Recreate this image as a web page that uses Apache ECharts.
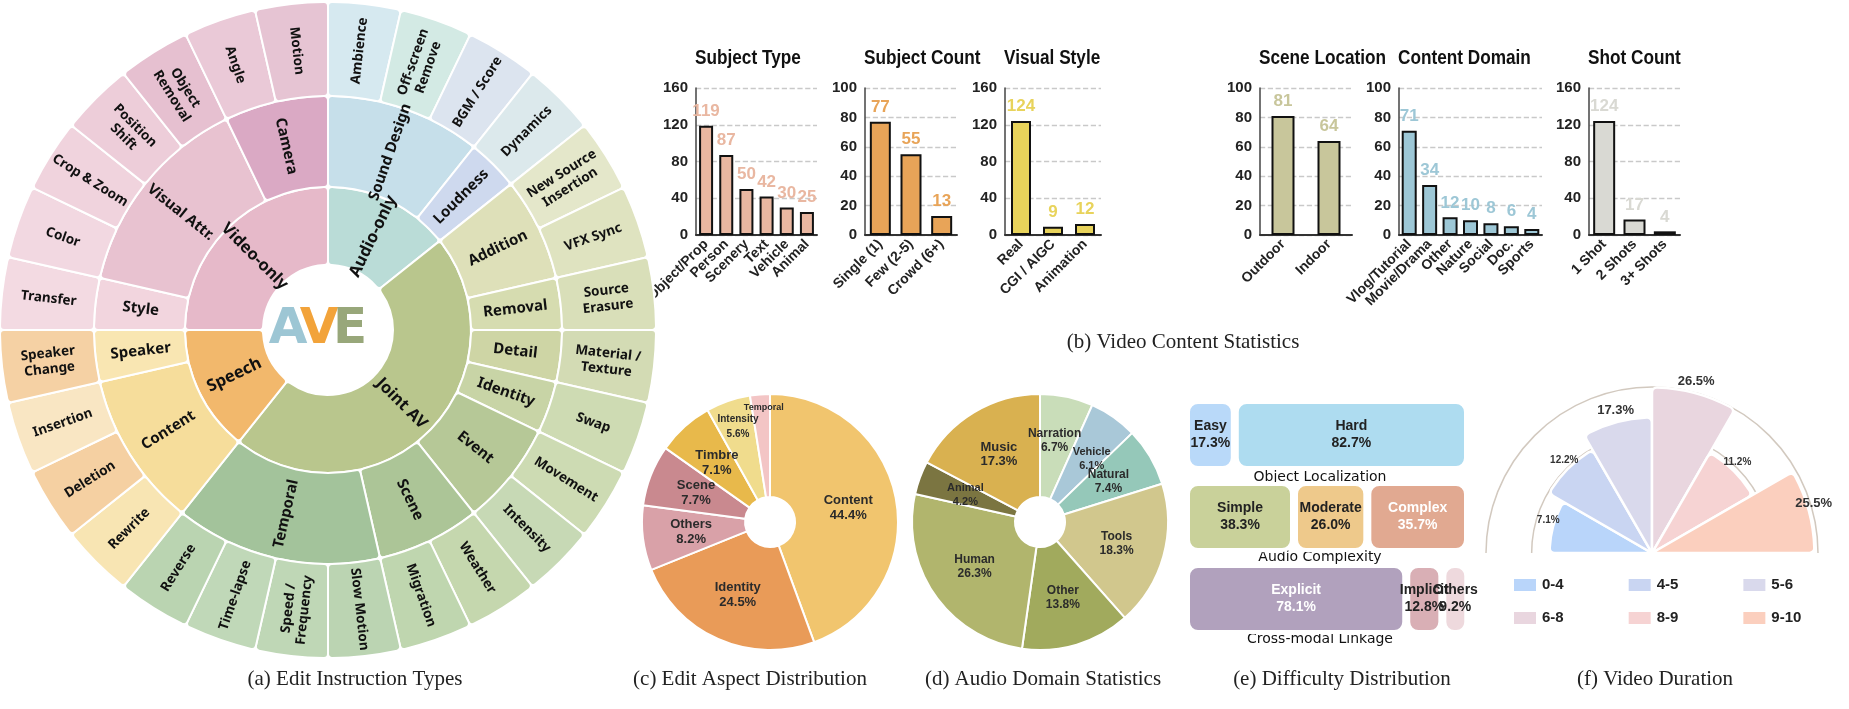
<!DOCTYPE html>
<html>
<head>
<meta charset="utf-8">
<title>AVE dataset statistics</title>
<script src="https://cdn.jsdelivr.net/npm/echarts@6/dist/echarts.min.js"></script>
<style>
html, body { margin: 0; padding: 0; background: #fff; }
#main { width: 1849px; height: 709px; }
</style>
</head>
<body>
<div id="main"></div>
<script>
// ---------- (a) edit instruction types ----------
var sbGroups = ['Audio-only', 'Joint AV', 'Speech', 'Video-only'];
var sbSubs = [
    ['Sound Design', 'Loudness'],
    ['Addition', 'Removal', 'Detail', 'Identity', 'Event', 'Scene', 'Temporal'],
    ['Content', 'Speaker'],
    ['Style', 'Visual Attr.', 'Camera']
];
var sbLeaves = [
    [['Ambience', 'Off-screen\nRemove', 'BGM / Score'], ['Dynamics']],
    [['New Source\nInsertion', 'VFX Sync'], ['Source\nErasure'], ['Material /\nTexture'], ['Swap'],
     ['Movement', 'Intensity'], ['Weather', 'Migration'],
     ['Slow Motion', 'Speed /\nFrequency', 'Time-lapse', 'Reverse']],
    [['Rewrite', 'Deletion', 'Insertion'], ['Speaker\nChange']],
    [['Transfer'], ['Color', 'Crop & Zoom', 'Position\nShift', 'Object\nRemoval'], ['Angle', 'Motion']]
];

// ---------- (b) video content statistics ----------
var subjectTypeCats = ['Object/Prop', 'Person', 'Scenery', 'Text', 'Vehicle', 'Animal'];
var subjectTypeVals = [119, 87, 50, 42, 30, 25];
var subjectCountCats = ['Single (1)', 'Few (2-5)', 'Crowd (6+)'];
var subjectCountVals = [77, 55, 13];
var visualStyleCats = ['Real', 'CGI / AIGC', 'Animation'];
var visualStyleVals = [124, 9, 12];
var sceneCats = ['Outdoor', 'Indoor'];
var sceneVals = [81, 64];
var domainCats = ['Vlog/Tutorial', 'Movie/Drama', 'Other', 'Nature', 'Social', 'Doc.', 'Sports'];
var domainVals = [71, 34, 12, 10, 8, 6, 4];
var shotCats = ['1 Shot', '2 Shots', '3+ Shots'];
var shotVals = [124, 17, 4];
var barTitles = ['Subject Type', 'Subject Count', 'Visual Style', 'Scene Location', 'Content Domain', 'Shot Count'];
var barMax = [160, 100, 160, 100, 100, 160];
var barStep = [40, 20, 40, 20, 20, 40];

// ---------- (c) edit aspect ----------
var aspectNames = ['Content', 'Identity', 'Others', 'Scene', 'Timbre', 'Intensity', 'Temporal'];
var aspectPcts = [44.4, 24.5, 8.2, 7.7, 7.1, 5.6, 2.5];

// ---------- (d) audio domain ----------
var audioNames = ['Narration', 'Vehicle', 'Natural', 'Tools', 'Other', 'Human', 'Animal', 'Music'];
var audioPcts = [6.7, 6.1, 7.4, 18.3, 13.8, 26.3, 4.2, 17.3];

// ---------- (e) difficulty ----------
var diffRows = ['Object Localization', 'Audio Complexity', 'Cross-modal Linkage'];
var diffNames = [['Easy', 'Hard'], ['Simple', 'Moderate', 'Complex'], ['Explicit', 'Implicit', 'Others']];
var diffPcts = [[17.3, 82.7], [38.3, 26.0, 35.7], [78.1, 12.8, 9.2]];

// ---------- (f) video duration ----------
var durCats = ['0-4', '4-5', '5-6', '6-8', '8-9', '9-10'];
var durPcts = [7.1, 12.2, 17.3, 26.5, 11.2, 25.5];

// ---------- colours / layout ----------
var sbGroupColors = ['#BADCD7', '#B9C68D', '#F2B86C', '#E6B9C9'];
var sbSubColors = [
    ['#C6DFEA', '#CED9EE'],
    ['#DEE0B9', '#D6DCB0', '#CED5A5', '#C8D4A6', '#B6C897', '#ACC597', '#A3C39B'],
    ['#F6DD9B', '#F9E6B2'],
    ['#F2D5DE', '#E8C2D0', '#DAA9C4']
];
var sbLeafColors = [
    [['#D6E9F0', '#D3EAE4', '#DCE4EF'], ['#DCE9EC']],
    [['#E4E7CA', '#DFE3C0'], ['#D9DFB9'], ['#D3DBB4'], ['#CEDBB3'], ['#CDDBB3', '#C7D9B5'],
     ['#C5D7AE', '#BFD6AF'], ['#BBD4B2', '#BFD7B6', '#C0D8B8', '#BAD4B1']],
    [['#F8E5B3', '#F5D0A2', '#F9E6C3'], ['#F5D1A4']],
    [['#F3DAE2'], ['#F2D8E1', '#F0D3DD', '#EDCDD9', '#E6C0D0'], ['#EAC9D7', '#E6C4D3']]
];
var barLeft = [696, 865, 1005, 1260, 1399, 1589];
var barSpan = [121, 92, 96, 92, 143, 91];
var barThick = [14, 21, 20, 23, 15, 22];
var barColors = ['#E9B7A1', '#E8A458', '#E8D35B', '#C8C69B', '#9DC7D6', '#D9D9D3'];
var aspectColors = ['#F1C56E', '#E99B58', '#D9A1A8', '#C9898F', '#E8B94B', '#F0DC8D', '#F3C5C5'];
var aspectFont = [13, 13, 13, 13, 13, 10, 9];
var audioColors = ['#C9DDB9', '#A9C8D8', '#95C8B9', '#D1C78D', '#A1AA5D', '#B1B56D', '#7B7541', '#D9B150'];
var audioFont = [12, 11, 12, 12, 12, 12, 11, 13];
var diffColors = [['#B9D9F9', '#AEDCF0'], ['#C9D19A', '#EEC98B', '#E1A991'], ['#B1A1BD', '#D9AFB5', '#EED9DD']];
var diffText = [['#222', '#222'], ['#222', '#222', '#fff'], ['#fff', '#222', '#222']];
var durColors = ['#B9D5FA', '#C9D5F2', '#D9D9EC', '#E9D6DF', '#F6D3D3', '#FBCFBE'];
var durFont = [10, 10, 13, 13, 10, 13];

var SANS = "'Liberation Sans', Arial, sans-serif";
var SERIF = "'Liberation Serif', 'Times New Roman', serif";

var chart = echarts.init(document.getElementById('main'));

// sunburst tree
var sbData = sbGroups.map(function (g, gi) {
    return {
        name: g,
        itemStyle: { color: sbGroupColors[gi] },
        children: sbSubs[gi].map(function (s, si) {
            return {
                name: s,
                itemStyle: { color: sbSubColors[gi][si] },
                children: sbLeaves[gi][si].map(function (l, li) {
                    // every leaf is one instruction type
                    return { name: l, value: 1, itemStyle: { color: sbLeafColors[gi][si][li] } };
                })
            };
        })
    };
});

var grids = [], xAxes = [], yAxes = [], series = [];

series.push({
    type: 'sunburst',
    center: [328, 330],
    radius: [0, 328],
    sort: null,
    nodeClick: false,
    startAngle: 90,
    data: sbData,
    itemStyle: { borderColor: '#fff', borderWidth: 2, borderRadius: 4 },
    label: { rotate: 'radial', color: '#111', fontWeight: 'bold', fontFamily: "'Noto Sans', sans-serif" },
    emphasis: { focus: 'none' },
    levels: [
        {},
        { r0: 65, r: 143, label: { fontSize: 16.5 } },
        { r0: 143, r: 234, label: { fontSize: 15 } },
        { r0: 234, r: 328, label: { fontSize: 13.5, lineHeight: 16 } }
    ]
});

// (b) bar charts
var barCats = [subjectTypeCats, subjectCountCats, visualStyleCats, sceneCats, domainCats, shotCats];
var barVals = [subjectTypeVals, subjectCountVals, visualStyleVals, sceneVals, domainVals, shotVals];
for (var i = 0; i < 6; i++) {
    grids.push({ left: barLeft[i], top: 88, width: barSpan[i], height: 147, outerBoundsMode: 'none' });
    xAxes.push({
        type: 'category', gridIndex: i, data: barCats[i],
        axisTick: { show: false },
        axisLine: { lineStyle: { color: '#333', width: 2 } },
        axisLabel: { rotate: 45, interval: 0, fontWeight: 'bold', fontSize: 14, color: '#222', fontFamily: SANS, margin: 7 }
    });
    yAxes.push({
        type: 'value', gridIndex: i, min: 0, max: barMax[i], interval: barStep[i],
        axisLine: { show: true, lineStyle: { color: '#444', width: 1.5 } },
        axisTick: { show: false },
        axisLabel: { fontWeight: 'bold', fontSize: 15, color: '#222', fontFamily: SANS, margin: 8 },
        splitLine: { lineStyle: { type: 'dashed', color: '#c9c9c9', width: 1.3 } }
    });
    series.push({
        type: 'bar', xAxisIndex: i, yAxisIndex: i,
        data: barVals[i],
        barWidth: barThick[i],
        itemStyle: { color: barColors[i], borderColor: '#111', borderWidth: 2 },
        label: { show: true, position: 'top', distance: 6, color: barColors[i], fontWeight: 'bold', fontSize: 17, fontFamily: SANS }
    });
}

// (c) pie
series.push({
    type: 'pie', center: [770, 522], radius: [25, 128], startAngle: 90,
    avoidLabelOverlap: false,
    data: aspectNames.map(function (n, k) {
        return { name: n, value: aspectPcts[k], itemStyle: { color: aspectColors[k] }, label: { fontSize: aspectFont[k] } };
    }),
    itemStyle: { borderColor: '#fff', borderWidth: 2 },
    label: {
        position: 'inside', fontWeight: 'bold', color: '#2b2b2b', fontFamily: SANS, lineHeight: 15,
        formatter: function (p) { return p.name === 'Temporal' ? p.name : p.name + '\n' + p.value.toFixed(1) + '%'; }
    },
    labelLayout: function (p) {
        if (p.dataIndex === 6) return { dy: -35, hideOverlap: false };
        if (p.dataIndex === 5) return { dy: -20, dx: -6, hideOverlap: false };
        return { hideOverlap: false };
    },
    emphasis: { disabled: true }
});

// (d) pie
series.push({
    type: 'pie', center: [1040, 522], radius: [25, 128], startAngle: 90,
    avoidLabelOverlap: false,
    data: audioNames.map(function (n, k) {
        return { name: n, value: audioPcts[k], itemStyle: { color: audioColors[k] }, label: { fontSize: audioFont[k] } };
    }),
    itemStyle: { borderColor: '#fff', borderWidth: 2 },
    label: {
        position: 'inside', fontWeight: 'bold', color: '#2b2b2b', fontFamily: SANS, lineHeight: 14,
        formatter: function (p) { return p.name + '\n' + p.value.toFixed(1) + '%'; }
    },
    labelLayout: function (p) {
        if (p.dataIndex === 0) return { dy: -4, dx: -2, hideOverlap: false };
        if (p.dataIndex === 1) return { dy: 2, dx: 6, hideOverlap: false };
        return { hideOverlap: false };
    },
    emphasis: { disabled: true }
});

// (e) difficulty blocks as stacked horizontal bars
grids.push({ left: 1186, top: 394, width: 282, height: 246, outerBoundsMode: 'none' });
xAxes.push({ type: 'value', gridIndex: 6, min: 0, max: 100, show: false });
yAxes.push({ type: 'category', gridIndex: 6, data: diffRows, inverse: true, show: false });
[0, 1, 2].forEach(function (k) {
    series.push({
        type: 'bar', xAxisIndex: 6, yAxisIndex: 6, stack: 'diff', barWidth: 70,
        data: diffPcts.map(function (row, r) {
            if (row[k] === undefined) return '-';
            return { value: row[k], itemStyle: { color: diffColors[r][k] }, label: { color: diffText[r][k] } };
        }),
        itemStyle: { borderColor: '#fff', borderWidth: 4, borderRadius: 10 },
        label: {
            show: true, position: 'inside', fontWeight: 'bold', fontSize: 14, lineHeight: 17, fontFamily: SANS,
            formatter: function (p) { return diffNames[p.dataIndex][k] + '\n' + p.value.toFixed(1) + '%'; }
        },
        labelLayout: { hideOverlap: false }
    });
});

// (f) video duration, half rose on polar bars
durCats.forEach(function (c, k) {
    series.push({
        type: 'bar', coordinateSystem: 'polar', name: c,
        data: durCats.map(function (cc, j) { return j === k ? durPcts[k] : '-'; }),
        barGap: '-100%', barCategoryGap: '0%',
        itemStyle: { color: durColors[k], borderColor: '#fff', borderWidth: 2.5, borderRadius: 5 },
        label: { show: true, position: 'end', rotate: 0, formatter: '{c}%', fontWeight: 'bold', fontSize: durFont[k], color: '#333', fontFamily: SANS }
    });
});

function txt(s, x, y, font, color, align, sx) {
    return { type: 'text', x: x, y: y, scaleX: sx || 1, silent: true,
        style: { text: s, font: font, fill: color || '#111', align: align || 'center', verticalAlign: 'middle' } };
}

var graphics = [];
barTitles.forEach(function (t, k) {
    // narrow bold title, squeezed like Arial Narrow
    graphics.push(txt(t, barLeft[k] - 1, 58, 'bold 20px ' + SANS, '#111', 'left', 0.86));
});
var capFont = '21px ' + SERIF;
graphics.push(txt('(a) Edit Instruction Types', 355, 679, capFont, '#222'));
graphics.push(txt('(b) Video Content Statistics', 1183, 342, capFont, '#222'));
graphics.push(txt('(c) Edit Aspect Distribution', 750, 679, capFont, '#222'));
graphics.push(txt('(d) Audio Domain Statistics', 1043, 679, capFont, '#222'));
graphics.push(txt('(e) Difficulty Distribution', 1342, 679, capFont, '#222'));
graphics.push(txt('(f) Video Duration', 1655, 679, capFont, '#222'));
var rowY = [477, 557, 639];
diffRows.forEach(function (r, k) {
    graphics.push(txt(r, 1320, rowY[k], '14px "DejaVu Sans", sans-serif', '#111'));
});
// centre logo
graphics.push(txt('A', 288, 330, 'bold 50px "DejaVu Sans", sans-serif', '#9DC6D4'));
graphics.push(txt('V', 319, 330, 'bold 50px "DejaVu Sans", sans-serif', '#F2A33A'));
graphics.push(txt('E', 350, 330, 'bold 50px "DejaVu Sans", sans-serif', '#98A77A'));

var legendBase = {
    icon: 'rect', itemWidth: 24, itemHeight: 14, itemGap: 63, selectedMode: false,
    textStyle: { fontWeight: 'bold', fontSize: 15, color: '#222', fontFamily: SANS }
};

var option = {
    animation: false,
    backgroundColor: '#fff',
    grid: grids,
    xAxis: xAxes,
    yAxis: yAxes,
    polar: { center: [1652, 553], radius: [0, 166] },
    angleAxis: {
        type: 'category', data: durCats, startAngle: 180, endAngle: 0, clockwise: true,
        axisLine: { show: false }, axisTick: { show: false }, axisLabel: { show: false }, splitLine: { show: false }
    },
    radiusAxis: {
        type: 'value', min: -24.3, max: 26.6, interval: 36.9, startValue: -24.3,
        axisLine: { show: false }, axisTick: { show: false }, axisLabel: { show: false },
        splitLine: { show: true, lineStyle: { color: '#D2C9BF', width: 1.5 } }
    },
    legend: [
        echarts.util.extend({ data: durCats.slice(0, 3), left: 1507, top: 572 }, legendBase),
        echarts.util.extend({ data: durCats.slice(3), left: 1507, top: 605 }, legendBase)
    ],
    series: series,
    graphic: graphics
};
chart.setOption(option);
</script>
</body>
</html>
